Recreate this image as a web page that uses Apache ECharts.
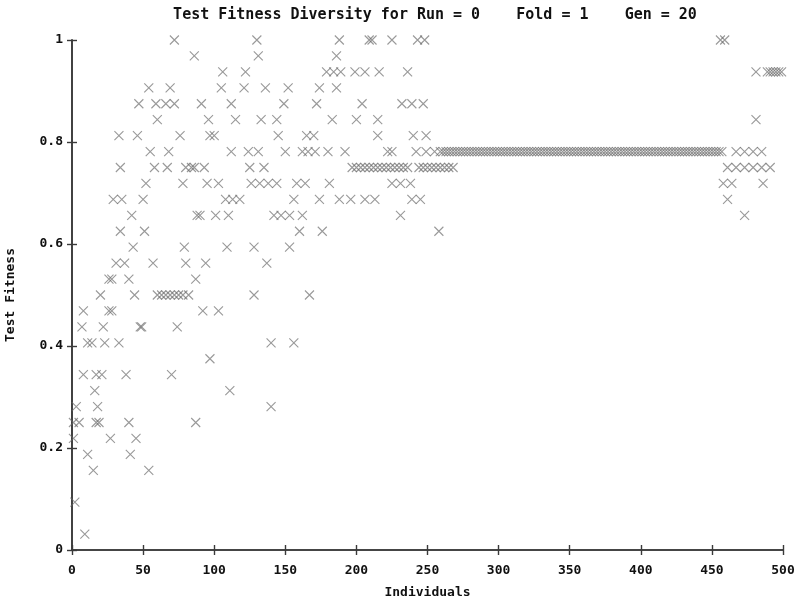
<!DOCTYPE html>
<html>
<head>
<meta charset="utf-8">
<script src="https://cdn.jsdelivr.net/npm/echarts@6/dist/echarts.min.js"></script>
<style>
html,body{margin:0;padding:0;background:#fff;}
#chart{width:806px;height:601px;}
</style>
</head>
<body>
<div id="chart"></div>
<script>
// Individuals (x) grouped by test fitness level (multiples of 1/32)
const x_at_1_00000 = [72, 130, 188, 209, 211, 225, 243, 248, 456, 459];
const x_at_0_96875 = [86, 131, 186];
const x_at_0_93750 = [106, 122, 179, 184, 189, 199, 206, 216, 236, 481, 489, 491, 493, 495, 497, 499];
const x_at_0_90625 = [54, 69, 105, 121, 136, 152, 174, 186];
const x_at_0_87500 = [47, 59, 66, 72, 91, 112, 149, 172, 204, 232, 239, 247];
const x_at_0_84375 = [60, 96, 115, 133, 144, 183, 200, 215, 481];
const x_at_0_81250 = [33, 46, 76, 97, 100, 145, 165, 170, 215, 240, 249];
const x_at_0_78125 = [55, 68, 112, 124, 131, 150, 162, 166, 171, 180, 192, 222, 225, 242, 249, 255,
  259, 261, 263, 265, 267, 269, 271, 273, 275, 277, 279, 281, 283, 285, 287, 289, 291, 293, 295, 297,
  299, 301, 303, 305, 307, 309, 311, 313, 315, 317, 319, 321, 323, 325, 327, 329, 331, 333, 335, 337,
  339, 341, 343, 345, 347, 349, 351, 353, 355, 357, 359, 361, 363, 365, 367, 369, 371, 373, 375, 377,
  379, 381, 383, 385, 387, 389, 391, 393, 395, 397, 399, 401, 403, 405, 407, 409, 411, 413, 415, 417,
  419, 421, 423, 425, 427, 429, 431, 433, 435, 437, 439, 441, 443, 445, 447, 449, 451, 453, 455, 457,
  467, 473, 479, 485];
const x_at_0_75000 = [34, 58, 67, 80, 84, 86, 93, 125, 135,
  197, 200, 203, 206, 209, 212, 215, 218, 221, 224, 227, 230, 233, 236,
  244, 247, 250, 253, 256, 259, 262, 265, 268,
  461, 467, 473, 479, 485, 491];
const x_at_0_71875 = [52, 78, 95, 103, 126, 132, 138, 144, 158, 164, 181, 225, 231, 238, 458, 464, 486];
const x_at_0_68750 = [29, 35, 50, 108, 113, 118, 156, 174, 188, 196, 206, 213, 239, 245, 461];
const x_at_0_65625 = [42, 88, 90, 101, 110, 142, 147, 153, 162, 231, 473];
const x_at_0_62500 = [34, 51, 160, 176, 258];
const x_at_0_59375 = [43, 79, 109, 128, 153];
const x_at_0_56250 = [31, 37, 57, 80, 94, 137];
const x_at_0_53125 = [26, 28, 40, 87];
const x_at_0_50000 = [20, 44, 60, 63, 66, 69, 72, 75, 78, 82, 128, 167];
const x_at_0_46875 = [8, 26, 28, 92, 103];
const x_at_0_43750 = [7, 22, 48, 49, 74];
const x_at_0_40625 = [11, 14, 23, 33, 140, 156];
const x_at_0_37500 = [97];
const x_at_0_34375 = [8, 17, 21, 38, 70];
const x_at_0_31250 = [16, 111];
const x_at_0_28125 = [3, 18, 140];
const x_at_0_25000 = [1, 5, 17, 19, 40, 87];
const x_at_0_21875 = [1, 27, 45];
const x_at_0_18750 = [11, 41];
const x_at_0_15625 = [15, 54];
const x_at_0_09375 = [2];
const x_at_0_03125 = [9];

const levels = [
  [1, x_at_1_00000], [0.96875, x_at_0_96875], [0.9375, x_at_0_93750], [0.90625, x_at_0_90625],
  [0.875, x_at_0_87500], [0.84375, x_at_0_84375], [0.8125, x_at_0_81250], [0.78125, x_at_0_78125],
  [0.75, x_at_0_75000], [0.71875, x_at_0_71875], [0.6875, x_at_0_68750], [0.65625, x_at_0_65625],
  [0.625, x_at_0_62500], [0.59375, x_at_0_59375], [0.5625, x_at_0_56250], [0.53125, x_at_0_53125],
  [0.5, x_at_0_50000], [0.46875, x_at_0_46875], [0.4375, x_at_0_43750], [0.40625, x_at_0_40625],
  [0.375, x_at_0_37500], [0.34375, x_at_0_34375], [0.3125, x_at_0_31250], [0.28125, x_at_0_28125],
  [0.25, x_at_0_25000], [0.21875, x_at_0_21875], [0.1875, x_at_0_18750], [0.15625, x_at_0_15625],
  [0.09375, x_at_0_09375], [0.03125, x_at_0_03125]
];

const xTicks = [0, 50, 100, 150, 200, 250, 300, 350, 400, 450, 500];
const yTicks = [0, 0.2, 0.4, 0.6, 0.8, 1];

const points = [];
levels.forEach(([y, xs]) => xs.forEach(x => points.push([x, y])));

const FONT = 'DejaVu Sans Mono';
const TXT = '#111';
const axisLine = { show: true, lineStyle: { color: '#3a3a3a', width: 1.6 } };
const tick = { show: true, inside: true, length: 5, lineStyle: { color: '#3a3a3a', width: 1.4 } };

const chart = echarts.init(document.getElementById('chart'), null, { renderer: 'canvas' });
chart.setOption({
  animation: false,
  backgroundColor: '#ffffff',
  title: {
    text: 'Test Fitness Diversity for Run = 0    Fold = 1    Gen = 20',
    left: 430, textAlign: 'center',
    top: 3,
    textStyle: { fontFamily: FONT, fontWeight: 'bold', fontSize: 15, color: TXT }
  },
  grid: { left: 72, right: 23, top: 40, bottom: 51, outerBoundsMode: 'none', containLabel: false },
  xAxis: [{
    type: 'value', min: 0, max: 500, interval: 50, position: 'bottom',
    name: 'Individuals', nameLocation: 'middle', nameGap: 36,
    nameTextStyle: { fontFamily: FONT, fontWeight: 'bold', fontSize: 13, color: TXT },
    axisLine, axisTick: tick, splitLine: { show: false },
    axisLabel: { fontFamily: FONT, fontWeight: 'bold', fontSize: 13, color: TXT, margin: 14,
      formatter: v => xTicks.includes(v) ? String(v) : '' }
  }, {
    type: 'value', min: 0, max: 500, interval: 50, position: 'top',
    axisLine, axisTick: tick, splitLine: { show: false }, axisLabel: { show: false }
  }],
  yAxis: [{
    type: 'value', min: 0, max: 1, interval: 0.2, position: 'left',
    name: 'Test Fitness', nameLocation: 'middle', nameGap: 55, nameRotate: 90,
    nameTextStyle: { fontFamily: FONT, fontWeight: 'bold', fontSize: 13, color: TXT },
    axisLine, axisTick: tick, splitLine: { show: false },
    axisLabel: { fontFamily: FONT, fontWeight: 'bold', fontSize: 13, color: TXT, margin: 9,
      formatter: v => yTicks.some(t => Math.abs(t - v) < 1e-9) ? String(+v.toFixed(1)) : '' }
  }, {
    type: 'value', min: 0, max: 1, interval: 0.2, position: 'right',
    axisLine, axisTick: tick, splitLine: { show: false }, axisLabel: { show: false }
  }],
  series: [{
    type: 'scatter',
    xAxisIndex: 0, yAxisIndex: 0,
    data: points,
    symbol: 'path://M0,0L10,10M10,0L0,10',
    symbolSize: 9,
    itemStyle: { color: 'rgba(0,0,0,0)', borderColor: 'rgba(105,105,105,0.85)', borderWidth: 1.1 },
    emphasis: { disabled: true },
    clip: false
  }]
});
</script>
</body>
</html>
